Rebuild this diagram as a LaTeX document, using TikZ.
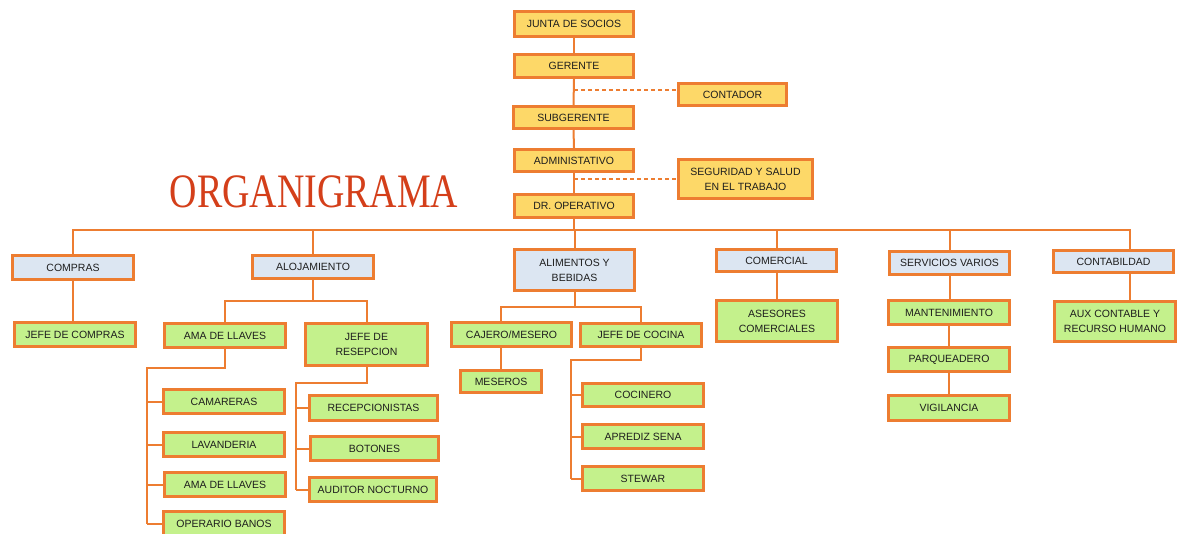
\documentclass[tikz,border=0pt]{standalone}
\usepackage{fontspec}
\setmainfont{Liberation Sans}
\newfontfamily\titlefont{Liberation Serif}
\definecolor{borde}{RGB}{237,125,49}
\definecolor{amar}{RGB}{253,216,104}
\definecolor{verde}{RGB}{196,241,140}
\definecolor{azul}{RGB}{220,230,242}
\definecolor{titulo}{RGB}{212,63,26}
\definecolor{texto}{RGB}{30,30,30}
\newcommand\bx[7]{\node[#2, minimum width={#5-#3-3}, minimum height={#6-#4-3}] (#1) at ({(#3+#5)/2},{(#4+#6)/2}) {#7};}
\tikzset{
  boxbase/.style={draw=borde, line width=3pt, inner sep=0pt, align=center, text=texto,
    font=\fontsize{10.5}{15}\selectfont},
  ybox/.style={boxbase, fill=amar},
  bbox/.style={boxbase, fill=azul},
  gbox/.style={boxbase, fill=verde},
  conn/.style={draw=borde, line width=2pt},
  dconn/.style={draw=borde, line width=2pt, dash pattern=on 4pt off 3pt},
}
\begin{document}
\begin{tikzpicture}[x=1pt,y=-1pt]
\useasboundingbox (0,0) rectangle (1180,534);
\fill[white] (0,0) rectangle (1180,534);

% title
\node[text=titulo, inner sep=0pt] (title) at (314,192) {\scalebox{0.79}[1]{\titlefont\fontsize{48}{50}\selectfont ORGANIGRAMA}};

% connectors (drawn first, behind boxes)
\coordinate (c1) at (574,90);
\coordinate (bus) at (574,230);
\coordinate (t1) at (147,368);
\coordinate (t2) at (296,383);
\coordinate (t3) at (571,360);

% yellow
\bx{junta}{ybox}{513}{10}{635}{38}{JUNTA DE SOCIOS}
\bx{gerente}{ybox}{513}{53}{635}{79}{GERENTE}
\bx{contador}{ybox}{677}{82}{788}{107}{CONTADOR}
\bx{subger}{ybox}{512}{105}{635}{130}{SUBGERENTE}
\bx{admin}{ybox}{513}{148}{635}{173}{ADMINISTATIVO}
\bx{segur}{ybox}{677}{158}{814}{200}{SEGURIDAD Y SALUD\\EN EL TRABAJO}
\bx{oper}{ybox}{513}{193}{635}{219}{DR. OPERATIVO}

% blue
\bx{compras}{bbox}{11}{254}{135}{281}{COMPRAS}
\bx{aloj}{bbox}{251}{254}{375}{280}{ALOJAMIENTO}
\bx{alim}{bbox}{513}{248}{636}{292}{ALIMENTOS Y\\BEBIDAS}
\bx{comer}{bbox}{715}{248}{838}{273}{COMERCIAL}
\bx{serv}{bbox}{888}{250}{1011}{276}{SERVICIOS VARIOS}
\bx{contab}{bbox}{1052}{249}{1175}{274}{CONTABILDAD}

% green
\bx{jcompras}{gbox}{13}{321}{137}{348}{JEFE DE COMPRAS}
\bx{ama}{gbox}{163}{322}{287}{349}{AMA DE LLAVES}
\bx{jrec}{gbox}{304}{322}{429}{367}{JEFE DE\\RESEPCION}
\bx{camar}{gbox}{162}{388}{286}{415}{CAMARERAS}
\bx{lavan}{gbox}{162}{431}{286}{458}{LAVANDERIA}
\bx{ama2}{gbox}{163}{471}{287}{498}{AMA DE LLAVES}
\bx{opera}{gbox}{162}{510}{286}{537}{OPERARIO BANOS}
\bx{recep}{gbox}{308}{394}{439}{422}{RECEPCIONISTAS}
\bx{boton}{gbox}{309}{435}{440}{462}{BOTONES}
\bx{audit}{gbox}{308}{476}{438}{503}{AUDITOR NOCTURNO}
\bx{cajero}{gbox}{450}{321}{573}{348}{CAJERO/MESERO}
\bx{jcocina}{gbox}{579}{322}{703}{348}{JEFE DE COCINA}
\bx{meseros}{gbox}{459}{369}{543}{394}{MESEROS}
\bx{cocin}{gbox}{581}{382}{705}{408}{COCINERO}
\bx{apred}{gbox}{581}{423}{705}{450}{APREDIZ SENA}
\bx{stewar}{gbox}{581}{465}{705}{492}{STEWAR}
\bx{asesor}{gbox}{715}{299}{839}{343}{ASESORES\\COMERCIALES}
\bx{mant}{gbox}{887}{299}{1011}{326}{MANTENIMIENTO}
\bx{parq}{gbox}{887}{346}{1011}{373}{PARQUEADERO}
\bx{vigil}{gbox}{887}{394}{1011}{422}{VIGILANCIA}
\bx{aux}{gbox}{1053}{300}{1177}{343}{AUX CONTABLE Y\\RECURSO HUMANO}

\path[conn] (junta.south) -- (gerente.north);
\path[conn] (gerente.south) -- (subger.north);
\path[conn] (subger.south) -- (admin.north);
\path[conn] (admin.south) -- (oper.north);
\path[dconn] (c1) -- (c1 -| contador.west);
\path[dconn] (segur.west -| admin.south) -- (segur.west);

\path[conn] (oper.south) -- (bus);
\path[conn] (compras.north) |- (bus) -| ([xshift=16.5]contab.north);
\path[conn] (aloj.north) -- (aloj.north |- bus);
\path[conn] (alim.north) -- (alim.north |- bus);
\path[conn] (comer.north) -- (comer.north |- bus);
\path[conn] (serv.north) -- (serv.north |- bus);

\path[conn] (compras.south) -- (compras.south |- jcompras.north);

\path[conn] (aloj.south) -- ++(0,21.5) coordinate (a1);
\path[conn] (ama.north) |- (a1) -| (jrec.north);

\path[conn] (ama.south) |- (t1) -- (t1 |- opera.west);
\path[conn] (t1 |- camar.west) -- (camar.west);
\path[conn] (t1 |- lavan.west) -- (lavan.west);
\path[conn] (t1 |- ama2.west) -- (ama2.west);
\path[conn] (t1 |- opera.west) -- (opera.west);

\path[conn] (jrec.south) |- (t2) -- (t2 |- audit.west);
\path[conn] (t2 |- recep.west) -- (recep.west);
\path[conn] (t2 |- boton.west) -- (boton.west);
\path[conn] (t2 |- audit.west) -- (audit.west);

\path[conn] (alim.south) -- ++(0,15.5) coordinate (b1);
\path[conn] (meseros.north |- cajero.north) |- (b1) -| (jcocina.north);
\path[conn] (meseros.north |- cajero.south) -- (meseros.north);

\path[conn] (jcocina.south) |- (t3) -- (t3 |- stewar.west);
\path[conn] (t3 |- cocin.west) -- (cocin.west);
\path[conn] (t3 |- apred.west) -- (apred.west);
\path[conn] (t3 |- stewar.west) -- (stewar.west);

\path[conn] (comer.south) -- (comer.south |- asesor.north);
\path[conn] (serv.south) -- (serv.south |- mant.north);
\path[conn] (mant.south) -- (parq.north);
\path[conn] (parq.south) -- (vigil.north);
\path[conn] ([xshift=16.5]contab.south) -- ([xshift=16.5]contab.south |- aux.north);
\end{tikzpicture}
\end{document}
